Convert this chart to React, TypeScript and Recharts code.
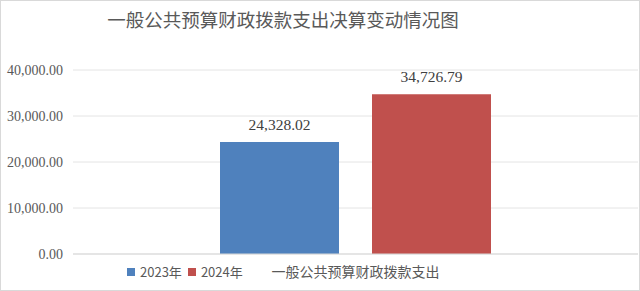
import React from 'react';
import { BarChart, Bar, XAxis, YAxis, CartesianGrid, Legend, LabelList } from 'recharts';

const title = '一般公共预算财政拨款支出决算变动情况图';
const categories = ['一般公共预算财政拨款支出'];
const seriesNames = ['2023年', '2024年'];
const values2023 = [24328.02];
const values2024 = [34726.79];
const yTicks = [0, 10000, 20000, 30000, 40000];
const colors = ['#4F81BD', '#C0504D'];

const data = categories.map((name, i) => ({ name, y2023: values2023[i], y2024: values2024[i] }));

const fmt = (v: number) =>
  Number(v).toLocaleString('en-US', { minimumFractionDigits: 2, maximumFractionDigits: 2 });

const SERIF = '"Liberation Serif", "Times New Roman", serif';
const CJK = '"Noto Sans CJK SC", sans-serif';

const YTick = (props: any) => {
  const { x, y, payload } = props;
  return (
    <text x={x} y={y} dy={5} textAnchor="end" style={{ fontFamily: SERIF }} fontSize={14} fill="#595959">
      {fmt(payload.value)}
    </text>
  );
};

const XTick = (props: any) => {
  const { x, y, payload } = props;
  return (
    <text x={x} y={y} dy={23} textAnchor="middle" style={{ fontFamily: CJK }} fontSize={14} fill="#595959">
      {payload.value}
    </text>
  );
};

const renderLegend = (props: any) => {
  const payload = props.payload || [];
  return (
    <div style={{ display: 'flex', alignItems: 'center', fontFamily: CJK, fontSize: 13, color: '#595959', lineHeight: '16px', whiteSpace: 'nowrap' }}>
      {payload.map((p: any, i: number) => (
        <div key={i} style={{ display: 'flex', alignItems: 'center', marginRight: 6 }}>
          <span style={{ display: 'inline-block', width: 8, height: 8, background: p.color, marginRight: 5 }} />
          <span>{p.value}</span>
        </div>
      ))}
    </div>
  );
};

const renderLabel = (props: any) => {
  const { x, y, width, value } = props;
  return (
    <text x={x + width / 2} y={y - 12} textAnchor="middle" style={{ fontFamily: SERIF }} fontSize={15.5} fill="#404040">
      {fmt(value)}
    </text>
  );
};

export default function App() {
  return (
    <div style={{ position: 'absolute', left: 0, top: 0, width: 640, height: 291, background: '#fff', boxSizing: 'border-box', border: '1px solid #d9d9d9', overflow: 'hidden' }}>
      <div style={{ position: 'absolute', left: 82, top: 7, width: 400, textAlign: 'center', fontFamily: CJK, fontSize: 18.5, lineHeight: '22px', color: '#595959', whiteSpace: 'nowrap' }}>
        {title}
      </div>
      <div style={{ position: 'absolute', left: -1, top: -1 }}>
        <BarChart width={640} height={291} data={data} margin={{ top: 70, right: 2, left: 0, bottom: 0 }} barSize={119} barGap={33}>
          <CartesianGrid vertical={false} stroke="#e4e4e4" />
          <XAxis
            dataKey="name"
            height={37}
            tickLine={false}
            tickSize={0}
            tickMargin={0}
            axisLine={{ stroke: '#d9d9d9' }}
            tick={<XTick />}
          />
          <YAxis
            width={73}
            domain={[0, 40000]}
            ticks={yTicks}
            axisLine={false}
            tickLine={false}
            tickSize={0}
            tickMargin={10}
            tick={<YTick />}
          />
          <Legend
            layout="horizontal"
            verticalAlign="middle"
            align="center"
            content={renderLegend}
            wrapperStyle={{ position: 'absolute', left: 127, top: 264, width: 'auto', height: 'auto' }}
          />
          <Bar dataKey="y2023" name={seriesNames[0]} fill={colors[0]} isAnimationActive={false}>
            <LabelList dataKey="y2023" content={renderLabel} />
          </Bar>
          <Bar dataKey="y2024" name={seriesNames[1]} fill={colors[1]} isAnimationActive={false}>
            <LabelList dataKey="y2024" content={renderLabel} />
          </Bar>
        </BarChart>
      </div>
    </div>
  );
}
